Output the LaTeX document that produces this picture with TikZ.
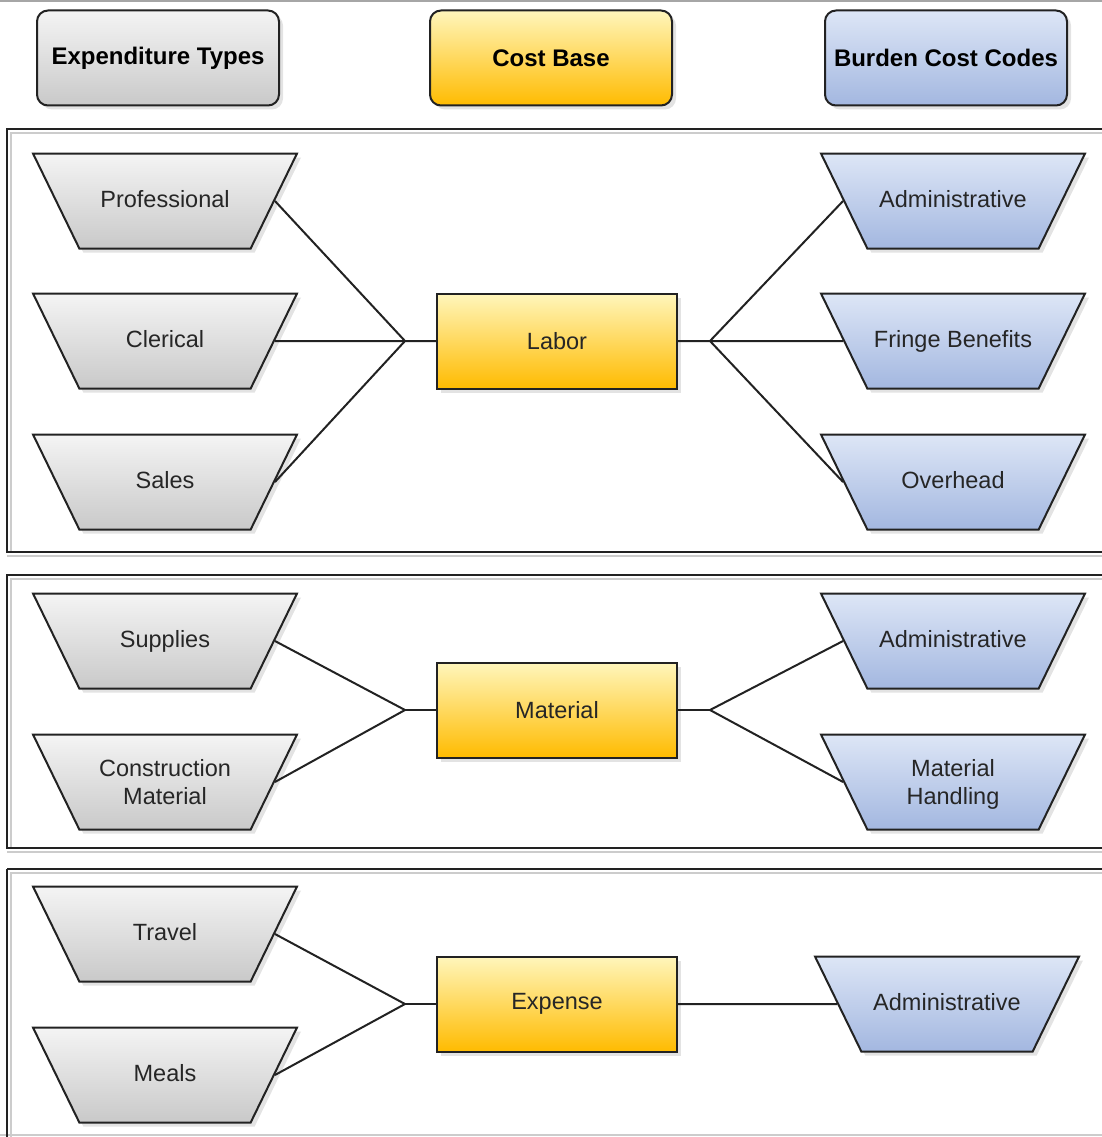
\documentclass[tikz,border=0pt]{standalone}
\usepackage{fontspec}
\setmainfont{Liberation Sans}
\usetikzlibrary{shapes,positioning,shadows}
\usepackage{xcolor}

\definecolor{grayTop}{HTML}{F4F4F4}
\definecolor{grayBot}{HTML}{C9C9C9}
\definecolor{yelTop}{HTML}{FFF6BC}
\definecolor{yelBot}{HTML}{FFBB00}
\definecolor{bluTop}{HTML}{DDE6F6}
\definecolor{bluBot}{HTML}{A3B7E0}
\definecolor{edge}{HTML}{222222}

\begin{document}
\begin{tikzpicture}[x=1pt,y=-1pt]
  \tikzstyle{shade} = [drop shadow={shadow xshift=4pt, shadow yshift=-4pt, opacity=0.22}]
  \tikzstyle{header} = [rectangle, rounded corners=11pt, draw=edge, line width=2pt, shade, minimum width=242pt, minimum height=95pt, font=\fontsize{24}{28}\selectfont\bfseries]
  \tikzstyle{base} = [rectangle, draw=edge, line width=2pt, shade, top color=yelTop, bottom color=yelBot, minimum width=240pt, minimum height=95pt, font=\fontsize{23.5}{28}\selectfont, text=black!85]
  \tikzstyle{trap} = [trapezium, shape border rotate=180, trapezium angle=64, trapezium stretches body=true, draw=edge, line width=2pt, shade, minimum width=264pt, minimum height=0pt, text height=17pt, text depth=5pt, inner ysep=36.5pt, align=center, font=\fontsize{23.5}{28}\selectfont, text=black!85]
  \tikzstyle{twoline} = [text height=47pt, text depth=3pt, inner ysep=22.5pt]
  \tikzstyle{exptype} = [trap, top color=grayTop, bottom color=grayBot]
  \tikzstyle{burden} = [trap, top color=bluTop, bottom color=bluBot]
  \tikzstyle{link} = [draw=edge, line width=2pt]
  \tikzstyle{panel} = [draw=edge, line width=2pt]
  \tikzstyle{panelshade} = [draw=black!20, line width=2.5pt]

  \useasboundingbox (0,0) rectangle (1102,1137);
  \draw[black!35, line width=1.5pt] (0,1) -- (1102,1);

  % panels
  \draw[panelshade] (11,552) -- (11,133) -- (1112,133);
  \draw[panelshade] (7,556) -- (1112,556);
  \draw[panel] (7,129) rectangle (1112,552);
  \draw[panelshade] (11,848) -- (11,579) -- (1112,579);
  \draw[panelshade] (7,852) -- (1112,852);
  \draw[panel] (7,575) rectangle (1112,848);
  \draw[panelshade] (11,1140) -- (11,873) -- (1112,873);
  \draw[panelshade] (0,1135) -- (1112,1135);
  \draw[panel] (7,869) -- (1112,869);
  \draw[panel] (7,869) -- (7,1140);

  % headers
  \node[header, top color=grayTop, bottom color=grayBot] (et) at (158,58) {Expenditure Types};
  \node[header, top color=yelTop, bottom color=yelBot] (cb) at (551,58) {Cost Base};
  \node[header, top color=bluTop, bottom color=bluBot] (bcc) at (946,58) {Burden Cost Codes};

  % labor
  \node[exptype] (prof) at (165,201) {Professional};
  \node[exptype] (cler) at (165,341) {Clerical};
  \node[exptype] (sales) at (165,482) {Sales};
  \node[base] (labor) at (557,341) {Labor};
  \node[burden] (adm1) at (953,201) {Administrative};
  \node[burden] (fringe) at (953,341) {Fringe Benefits};
  \node[burden] (ovh) at (953,482) {Overhead};
  \coordinate (jl1) at (405,341);
  \coordinate (jr1) at (710,341);
  \draw[link] (prof.east) -- (jl1) -- (sales.east);
  \draw[link] (cler.east) -- (jl1) -- (labor.west);
  \draw[link] (labor.east) -- (jr1) -- (fringe.west);
  \draw[link] (adm1.west) -- (jr1) -- (ovh.west);

  % material
  \node[exptype] (supp) at (165,641) {Supplies};
  \node[exptype, twoline] (constr) at (165,782) {Construction\\Material};
  \node[base] (material) at (557,710) {Material};
  \node[burden] (adm2) at (953,641) {Administrative};
  \node[burden, twoline] (mathand) at (953,782) {Material\\Handling};
  \coordinate (jl2) at (405,710);
  \coordinate (jr2) at (710,710);
  \draw[link] (supp.east) -- (jl2) -- (constr.east);
  \draw[link] (jl2) -- (material.west);
  \draw[link] (material.east) -- (jr2);
  \draw[link] (adm2.west) -- (jr2) -- (mathand.west);

  % expense
  \node[exptype] (travel) at (165,934) {Travel};
  \node[exptype] (meals) at (165,1075) {Meals};
  \node[base] (expense) at (557,1004) {Expense};
  \node[burden] (adm3) at (947,1004) {Administrative};
  \coordinate (jl3) at (405,1004);
  \draw[link] (travel.east) -- (jl3) -- (meals.east);
  \draw[link] (jl3) -- (expense.west);
  \draw[link] (expense.east) -- (adm3.west);
\end{tikzpicture}
\end{document}
